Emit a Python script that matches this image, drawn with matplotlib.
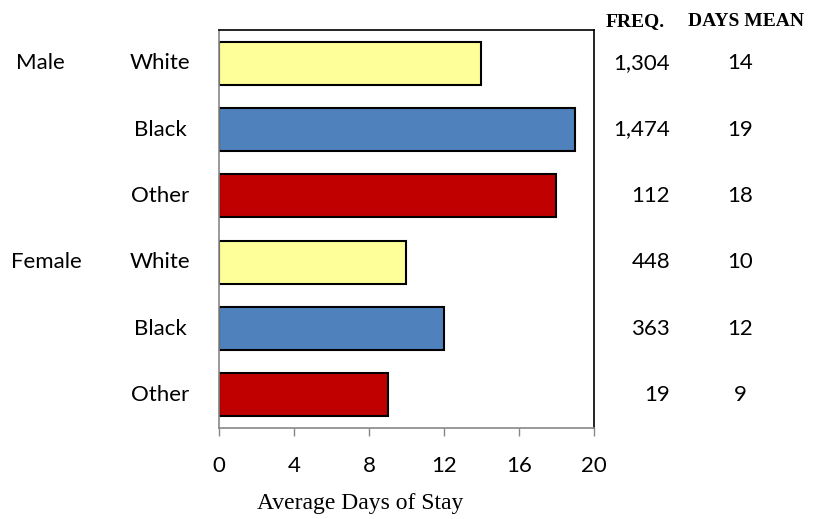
import matplotlib.pyplot as plt
import matplotlib.transforms as mtransforms

# data (top to bottom)
sexes = ['Male', 'Female']
races = ['White', 'Black', 'Other', 'White', 'Black', 'Other']
days_mean = [14, 19, 18, 10, 12, 9]
freq = ['1,304', '1,474', '112', '448', '363', '19']
days_text = ['14', '19', '18', '10', '12', '9']
colors = ['#FFFF99', '#4F81BD', '#C00000', '#FFFF99', '#4F81BD', '#C00000']

sans = ['Lato', 'DejaVu Sans']
serif = 'Liberation Serif'
fs = 16

fig = plt.figure(figsize=(8.23, 5.19), dpi=100)
ax = fig.add_axes([0.266, 0.1753, 0.4557, 0.7669])

ypos = list(range(len(races)))[::-1]
ax.barh(ypos, days_mean, height=0.65, color=colors, edgecolor='black', linewidth=1.5)

ax.set_xlim(0, 20)
ax.set_ylim(-0.5, len(races) - 0.5)
ax.set_xticks([0, 4, 8, 12, 16, 20])
ax.set_xticklabels(['0', '4', '8', '12', '16', '20'], family=sans, fontsize=fs)
ax.set_yticks([])
ax.tick_params(axis='x', direction='out', length=6, width=1, color='#888888', pad=14)
ax.set_xlabel('Average Days of Stay', family=serif, fontsize=17)
ax.xaxis.set_label_coords(0.376, -0.163)

for side in ['top', 'right']:
    ax.spines[side].set_color('black')
    ax.spines[side].set_linewidth(1.2)
for side in ['left', 'bottom']:
    ax.spines[side].set_color('#888888')
    ax.spines[side].set_linewidth(1.2)

tr = mtransforms.blended_transform_factory(ax.transAxes, ax.transData)
for y, race, f, d in zip(ypos, races, freq, days_text):
    ax.text(-0.157, y, race, transform=tr, ha='center', va='center', family=sans, fontsize=fs)
    ax.text(1.203, y, f, transform=tr, ha='right', va='center', family=sans, fontsize=fs)
    ax.text(1.389, y, d, transform=tr, ha='center', va='center', family=sans, fontsize=fs)

ax.text(-0.477, ypos[0], sexes[0], transform=tr, ha='center', va='center', family=sans, fontsize=fs)
ax.text(-0.461, ypos[3], sexes[1], transform=tr, ha='center', va='center', family=sans, fontsize=fs)

ax.text(1.109, 1.021, 'FREQ.', transform=ax.transAxes, ha='center', va='center',
        family=serif, fontsize=14, fontweight='bold')
ax.text(1.405, 1.021, 'DAYS MEAN', transform=ax.transAxes, ha='center', va='center',
        family=serif, fontsize=14, fontweight='bold')

fig.savefig('out.png', dpi=100)
